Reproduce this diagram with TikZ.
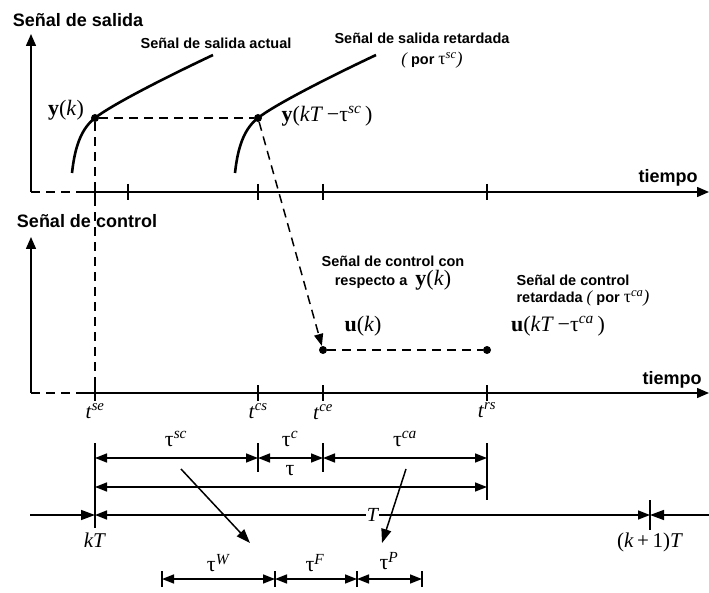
\documentclass[tikz,border=0pt]{standalone}
\usepackage{fontspec}
\setmainfont{Liberation Sans}
\newfontfamily\tms{Liberation Serif}
\usetikzlibrary{arrows.meta}

\tikzset{
  axis/.style={line width=1.5pt,-{Triangle[length=12pt,width=10pt]}},
  tickline/.style={line width=1.5pt},
  dline/.style={line width=1.5pt,dash pattern=on 9pt off 6pt},
  dim/.style={line width=1.5pt,{Triangle[length=12pt,width=9pt]}-{Triangle[length=12pt,width=9pt]}},
  pointer/.style={line width=1.5pt,-{Triangle[length=14pt,width=10pt]}},
  signal/.style={line width=2.6pt},
  dot/.style={circle,fill,inner sep=0pt,minimum size=8pt},
  title/.style={font=\bfseries\fontsize{18}{20}\selectfont},
  lbl/.style={font=\bfseries\fontsize{14.5}{17}\selectfont,align=center,inner sep=0pt},
  mlbl/.style={font=\tms\fontsize{22}{24}\selectfont,inner sep=0pt},
  taulbl/.style={font=\tms\fontsize{22}{24}\selectfont,inner sep=0pt},
  tlbl/.style={font=\tms\fontsize{21}{24}\selectfont,inner sep=0pt}
}

\begin{document}
\begin{tikzpicture}[x=1pt,y=-1pt]
\useasboundingbox (0,0) rectangle (709,593);

% Time instants
\def\tse{95}
\def\tcs{258}
\def\tce{323}
\def\trs{487}
\def\ya{192}
\def\yb{393}

% Output signal axes
\coordinate (O1) at (31,\ya);
\coordinate (Y1) at (31,34);
\coordinate (S1) at (80,\ya);
\coordinate (X1) at (709,\ya);
\draw[axis] (O1) -- (Y1);
\draw[dline] (O1) -- (S1);
\draw[axis] (S1) -- (X1);
\foreach \t in {\tse,128,\tcs,\tce,\trs}
  \draw[tickline] (\t,\ya-8) -- (\t,\ya+8);

% Control signal axes
\coordinate (O2) at (31,\yb);
\coordinate (Y2) at (31,237);
\coordinate (S2) at (80,\yb);
\coordinate (X2) at (709,\yb);
\draw[axis] (O2) -- (Y2);
\draw[dline] (O2) -- (S2);
\draw[axis] (S2) -- (X2);
\foreach \t in {\tse,\tcs,\tce,\trs}
  \draw[tickline] (\t,\yb-8) -- (\t,\yb+8);

% Output signals (actual and delayed)
\draw[signal] (72,173) .. controls (75,145) and (82,128) .. (95,118)
  .. controls (110,106) and (160,80) .. (213,55);
\draw[signal,xshift=163pt] (72,173) .. controls (75,145) and (82,128) .. (95,118)
  .. controls (110,106) and (160,80) .. (213,55);

% Sample points
\node[dot] (yk) at (\tse,118) {};
\node[dot] (yd) at (\tcs,118) {};
\node[dot] (uk) at (\tce,350) {};
\node[dot] (ud) at (\trs,350) {};
\coordinate (B1) at (\tse,\yb);

\draw[dline] (yk) -- (yd);
\draw[dline] (yk) -- (B1);
\draw[dline,-{Triangle[length=12pt,width=9pt]}] (yd) -- (uk);
\draw[dline] (uk) -- (ud);

% Titles and labels
\node[title] at (78,20) {Señal de salida};
\node[title] at (87,221) {Señal de control};
\node[title] at (668,178) {tiempo};
\node[title] at (672,380) {tiempo};
\node[lbl] at (216,43) {Señal de salida actual};
\node[lbl] at (422,38) {Señal de salida retardada};
\node[lbl] at (432,60) {{\tms\mdseries\itshape\fontsize{17}{18}\selectfont(} por {\tms\mdseries\fontsize{18}{18}\selectfont τ\textsuperscript{\itshape sc}\itshape)}};
\node[lbl] at (393,273) {Señal de control con\\[2pt]respecto a \ {\tms\mdseries\fontsize{22}{20}\selectfont\textbf{y}(\textit{k})}};
\node[lbl] at (573,280) {Señal de control};
\node[lbl] at (583,298) {retardada {\tms\mdseries\itshape\fontsize{17}{18}\selectfont(} por {\tms\mdseries\fontsize{18}{18}\selectfont τ\textsuperscript{\itshape ca}\itshape)}};
\node[mlbl] at (66,110) {\textbf{y}(\textit{k})};
\node[mlbl] at (327,116) {\textbf{y}(\textit{kT}\,−τ\textsuperscript{\itshape sc}\,)};
\node[mlbl] at (363,326) {\textbf{u}(\textit{k})};
\node[mlbl] at (558,326) {\textbf{u}(\textit{kT}\,−τ\textsuperscript{\itshape ca}\,)};

% Time instant labels
\node[tlbl] at (\tse,411) {\textit{t}\textsuperscript{\itshape se}};
\node[tlbl] at (\tcs,411) {\textit{t}\textsuperscript{\itshape cs}};
\node[tlbl] at (\tce,412) {\textit{t}\textsuperscript{\itshape ce}};
\node[tlbl] at (\trs,410) {\textit{t}\textsuperscript{\itshape rs}};

% Delay boundaries
\draw[tickline] (\tse,443) -- (\tse,528);
\draw[tickline] (\tcs,443) -- (\tcs,472);
\draw[tickline] (\tce,443) -- (\tce,472);
\draw[tickline] (\trs,443) -- (\trs,500);
\draw[tickline] (650,500) -- (650,530);

% Delay components
\coordinate (a1) at (\tse,458);
\coordinate (a2) at (\tcs,458);
\coordinate (a3) at (\tce,458);
\coordinate (a4) at (\trs,458);
\draw[dim] (a1) -- (a2);
\draw[dim] (a2) -- (a3);
\draw[dim] (a3) -- (a4);
\node[taulbl] at (176,439) {τ\textsuperscript{\itshape sc}};
\node[taulbl] at (290,439) {τ\textsuperscript{\itshape c}};
\node[taulbl] at (405,439) {τ\textsuperscript{\itshape ca}};

% Total delay
\coordinate (b1) at (\tse,487);
\coordinate (b2) at (\trs,487);
\draw[dim] (b1) -- (b2);
\node[taulbl] at (290,471) {τ};

% Sampling period
\coordinate (c0) at (30,515);
\coordinate (c1) at (\tse,515);
\coordinate (c2) at (650,515);
\coordinate (c3) at (709,515);
\draw[pointer] (c0) -- (c1);
\draw[dim] (c1) -- node[fill=white,inner sep=1pt,font=\tms\itshape\fontsize{20}{22}\selectfont] {T} (c2);
\draw[pointer] (c3) -- (c2);
\node[tlbl] at (95,540) {\textit{kT}};
\node[tlbl] at (650,542) {(\textit{k}\,+\,1)\textit{T}};

% Breakdown of delays
\coordinate (d1) at (162,579);
\coordinate (d2) at (275,579);
\coordinate (d3) at (357,579);
\coordinate (d4) at (422,579);
\foreach \p in {d1,d2,d3,d4}
  \draw[tickline] ([yshift=-8pt]\p) -- ([yshift=8pt]\p);
\draw[dim] (d1) -- (d2);
\draw[dim] (d2) -- (d3);
\draw[dim] (d3) -- (d4);
\node[taulbl] at (218,563) {τ\textsuperscript{\itshape W}};
\node[taulbl] at (315,563) {τ\textsuperscript{\itshape F}};
\node[taulbl] at (389,561) {τ\textsuperscript{\itshape P}};

% Pointers
\coordinate (e1) at (181,469);
\coordinate (e2) at (250,543);
\coordinate (f1) at (406,469);
\coordinate (f2) at (382,543);
\draw[pointer] (e1) -- (e2);
\draw[pointer] (f1) -- (f2);

\end{tikzpicture}
\end{document}
